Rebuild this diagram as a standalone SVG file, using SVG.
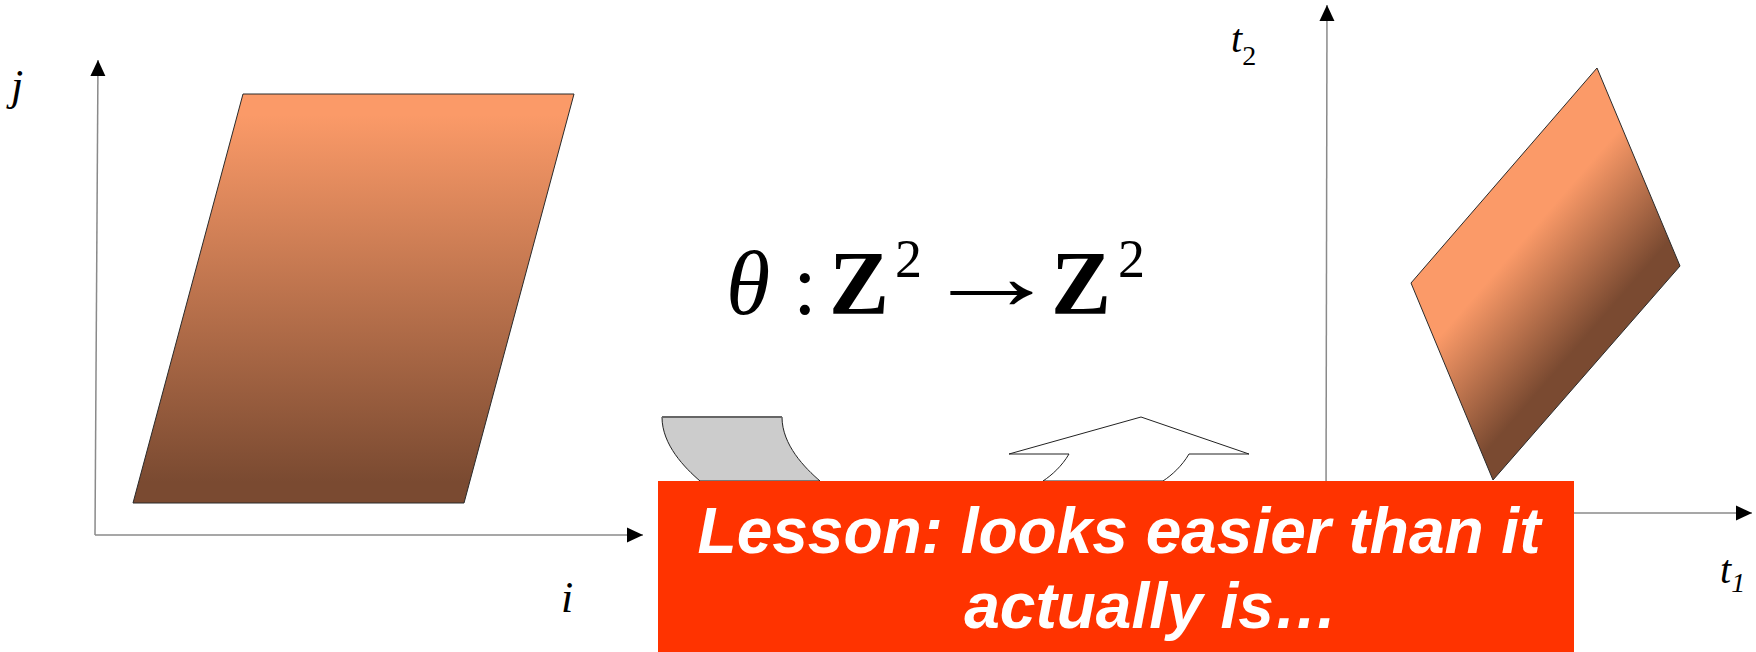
<svg xmlns="http://www.w3.org/2000/svg" width="1756" height="652" viewBox="0 0 1756 652">
<style>
.axis{stroke:#8a8a8a;stroke-width:1.5;fill:none}
.lbl{font-family:"Liberation Serif","Times New Roman",serif;font-style:italic;fill:#000}
.shape{stroke:#2a2a2a;stroke-width:1}
.math{font-family:"Liberation Serif","Times New Roman",serif;fill:#000}
.lesson{font-family:"Liberation Sans",Arial,sans-serif;font-weight:bold;font-style:italic;font-size:64px;fill:#fff;text-anchor:middle}
</style>
<defs>
<marker id="ah" markerUnits="userSpaceOnUse" markerWidth="16" markerHeight="16" viewBox="0 0 16 16" refX="16" refY="8" orient="auto">
<path d="M0,0.5 L16,8 L0,15.5 Z" fill="#000"/>
</marker>
<linearGradient id="gLeft" x1="0" y1="0" x2="0" y2="1">
<stop offset="0.05" stop-color="#FB9A68"/>
<stop offset="0.95" stop-color="#7A4A31"/>
</linearGradient>
<linearGradient id="gRight" gradientUnits="userSpaceOnUse" x1="1504" y1="175" x2="1648" y2="300">
<stop offset="0.3" stop-color="#FB9A68"/>
<stop offset="0.88" stop-color="#7A4A31"/>
</linearGradient>
</defs>

<g id="connectors">
<line class="axis" x1="95" y1="535" x2="98" y2="60" marker-end="url(#ah)"/>
<line class="axis" x1="95" y1="535" x2="643" y2="535" marker-end="url(#ah)"/>
<line class="axis" x1="1326" y1="513" x2="1327" y2="5" marker-end="url(#ah)"/>
<line class="axis" x1="1326" y1="513" x2="1752" y2="513" marker-end="url(#ah)"/>
</g>

<g id="label-j"><text class="lbl" x="11" y="100" font-size="44">j</text></g>
<g id="label-i"><text class="lbl" x="561" y="612" font-size="44">i</text></g>
<g id="label-t2"><text class="lbl" x="1231" y="52" font-size="40">t<tspan font-size="28" font-style="normal" dy="13">2</tspan></text></g>
<g id="label-t1"><text class="lbl" x="1720" y="583" font-size="40">t<tspan font-size="28" dy="9">1</tspan></text></g>

<g id="domain-ij">
<polygon class="shape" points="243,94 574,94 464,503 133,503" fill="url(#gLeft)"/>
</g>

<g id="domain-t">
<polygon class="shape" points="1597,68 1680,266 1493,480 1411,283" fill="url(#gRight)"/>
</g>

<g id="curved-arrow-down">
<path d="M662,417 L782,417 C782,445 805,468 820,481 L700,481 C685,468 662,445 662,417 Z" fill="#CCCCCC" stroke="#222" stroke-width="1"/>
<line x1="662" y1="417" x2="782" y2="417" stroke="#666" stroke-width="2"/>
</g>

<g id="curved-arrow-up">
<path d="M1043,481 C1052,475 1062,466 1069,454 L1009,454 L1141,417 L1249,454 L1189,454 C1182,466 1172,475 1163,481 Z" fill="#fff" stroke="#222" stroke-width="1"/>
</g>

<g id="mapping">
<text class="math" x="726" y="314" font-size="90" font-style="italic">θ</text>
<text class="math" x="793" y="314" font-size="86">:</text>
<text class="math" x="829" y="314" font-size="90" font-weight="bold">Z</text>
<text class="math" x="895" y="277" font-size="54">2</text>
<text class="math" transform="translate(922,309) scale(1.65,1.15)" x="0" y="0" font-size="84" letter-spacing="-30">→</text>
<text class="math" x="1051" y="314" font-size="90" font-weight="bold">Z</text>
<text class="math" x="1118" y="277" font-size="54">2</text>
</g>

<g id="lesson">
<rect x="658" y="481" width="916" height="180" fill="#FF3300"/>
<text class="lesson" x="1119" y="553">Lesson: looks easier than it</text>
<text class="lesson" x="1151" y="628">actually is…</text>
</g>
</svg>
